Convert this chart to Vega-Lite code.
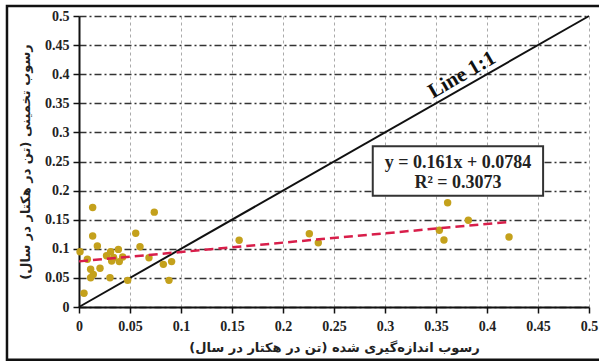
{
  "$schema": "https://vega.github.io/schema/vega-lite/v6.json",
  "width": 510,
  "height": 291,
  "autosize": "none",
  "padding": {"left": 79, "top": 16, "right": 10, "bottom": 55},
  "background": "white",
  "config": {
    "view": {"stroke": null},
    "axis": {
      "labelFont": "Liberation Serif",
      "labelFontWeight": "bold",
      "labelFontSize": 14,
      "labelColor": "#222",
      "labelOverlap": false,
      "titleFont": "DejaVu Sans",
      "titleFontWeight": "bold",
      "titleFontSize": 13,
      "titleColor": "#222",
      "domainColor": "#111",
      "domainWidth": 2,
      "tickColor": "#111",
      "tickWidth": 1.5,
      "tickSize": 6
    }
  },
  "datasets": {
    "pts": [
      {"x": 0.001, "y": 0.095}, {"x": 0.0049, "y": 0.0235}, {"x": 0.0082, "y": 0.082},
      {"x": 0.0114, "y": 0.0648}, {"x": 0.0114, "y": 0.0504}, {"x": 0.0134, "y": 0.171},
      {"x": 0.0134, "y": 0.122}, {"x": 0.014, "y": 0.056}, {"x": 0.018, "y": 0.105},
      {"x": 0.0206, "y": 0.0665}, {"x": 0.027, "y": 0.088}, {"x": 0.0304, "y": 0.0504},
      {"x": 0.031, "y": 0.095}, {"x": 0.032, "y": 0.079}, {"x": 0.034, "y": 0.085},
      {"x": 0.0386, "y": 0.099}, {"x": 0.0395, "y": 0.078}, {"x": 0.0428, "y": 0.086},
      {"x": 0.0477, "y": 0.0458}, {"x": 0.0556, "y": 0.1266}, {"x": 0.0598, "y": 0.1036},
      {"x": 0.0686, "y": 0.0847}, {"x": 0.0738, "y": 0.163}, {"x": 0.0827, "y": 0.0733},
      {"x": 0.0882, "y": 0.0458}, {"x": 0.0908, "y": 0.078}, {"x": 0.157, "y": 0.1146},
      {"x": 0.2258, "y": 0.126}, {"x": 0.2346, "y": 0.1105}, {"x": 0.3533, "y": 0.1318},
      {"x": 0.3578, "y": 0.115}, {"x": 0.3614, "y": 0.179}, {"x": 0.3817, "y": 0.149},
      {"x": 0.4216, "y": 0.1203}
    ],
    "trend": [{"x": 0, "y": 0.0784}, {"x": 0.42, "y": 0.146}],
    "oneone": [{"x": 0, "y": 0}, {"x": 0.5, "y": 0.5}],
    "box": [{"x": 0.288, "x2": 0.455, "y": 0.191, "y2": 0.276}],
    "frame": [{"x": -0.0706, "x2": 0.52, "y": -0.0905, "y2": 0.517}],
    "eq": [
      {"x": 0.3716, "y": 0.2474, "label": "y = 0.161x + 0.0784"},
      {"x": 0.3716, "y": 0.2125, "label": "R² = 0.3073"}
    ],
    "lbl": [{"x": 0.3755, "y": 0.3986, "label": "Line 1:1"}]
  },
  "encoding": {
    "x": {
      "field": "x", "type": "quantitative",
      "scale": {"domain": [0, 0.5], "nice": false, "zero": false},
      "axis": {
        "values": [0, 0.05, 0.1, 0.15, 0.2, 0.25, 0.3, 0.35, 0.4, 0.45, 0.5],
        "format": ".2~f",
        "title": "رسوب اندازه‌گیری شده (تن در هکتار در سال)",
        "grid": true, "gridColor": "#aaa", "gridDash": [3, 3], "gridWidth": 1,
        "labelPadding": 6, "titlePadding": 8,
        "labelFlush": false
      }
    },
    "y": {
      "field": "y", "type": "quantitative",
      "scale": {"domain": [0, 0.5], "nice": false, "zero": false},
      "axis": {
        "values": [0, 0.05, 0.1, 0.15, 0.2, 0.25, 0.3, 0.35, 0.4, 0.45, 0.5],
        "format": ".2~f",
        "title": "رسوب تخمینی (تن در هکتار در سال)",
        "grid": true, "gridColor": "#333", "gridDash": [7, 3, 2, 3], "gridWidth": 1.5,
        "labelPadding": 4, "titlePadding": 12,
        "labelFlush": false
      }
    }
  },
  "layer": [
    {
      "data": {"name": "frame"},
      "mark": {"type": "rect", "fill": null, "stroke": "#111", "strokeWidth": 2.5, "clip": false},
      "encoding": {
        "x2": {"field": "x2"},
        "y2": {"field": "y2"}
      }
    },
    {
      "data": {"name": "oneone"},
      "mark": {"type": "line", "color": "#111", "strokeWidth": 2}
    },
    {
      "data": {"name": "pts"},
      "mark": {"type": "circle", "color": "#C4A11C", "opacity": 1, "size": 55}
    },
    {
      "data": {"name": "trend"},
      "mark": {"type": "line", "color": "#D81E4A", "strokeWidth": 2.5, "strokeDash": [9, 5]}
    },
    {
      "data": {"name": "box"},
      "mark": {"type": "rect", "fill": "white", "stroke": "#333", "strokeWidth": 2},
      "encoding": {
        "x2": {"field": "x2"},
        "y2": {"field": "y2"}
      }
    },
    {
      "data": {"name": "eq"},
      "mark": {"type": "text", "font": "Liberation Serif", "fontWeight": "bold", "fontSize": 18, "color": "#222", "align": "center", "baseline": "middle"},
      "encoding": {
        "text": {"field": "label"}
      }
    },
    {
      "data": {"name": "lbl"},
      "mark": {"type": "text", "font": "Liberation Serif", "fontWeight": "bold", "fontSize": 21, "color": "#111", "align": "center", "baseline": "middle", "angle": -30},
      "encoding": {
        "text": {"field": "label"}
      }
    }
  ]
}
